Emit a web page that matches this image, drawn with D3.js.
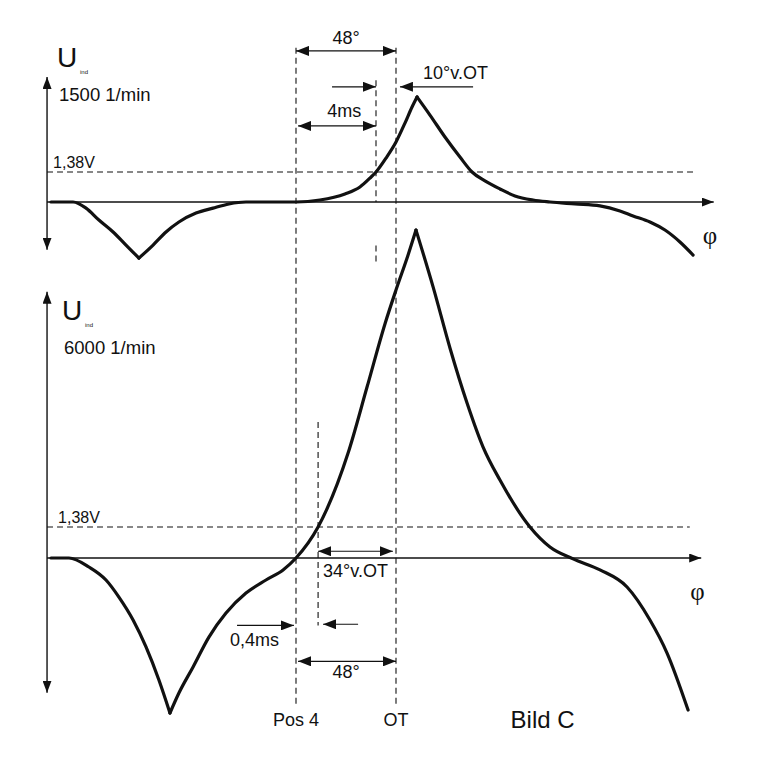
<!DOCTYPE html>
<html>
<head>
<meta charset="utf-8">
<script src="https://cdn.jsdelivr.net/npm/d3@7"></script>
<style>
  body { margin: 0; background: #fff; }
  text { font-family: "Liberation Sans", Arial, sans-serif; fill: #111; }
  .phi { font-family: "Liberation Serif", "Times New Roman", serif; }
</style>
</head>
<body>
<svg id="canvas" width="762" height="780"></svg>
<script>
// crank angle phi in degrees relative to OT (negative = before OT), U in volts

// upper trace, 1500 1/min
let topPhi = [-165.6, -155.0, -148.8, -142.6, -135.8, -129.6, -123.4, -116.6, -110.4, -104.2,
  -96.0, -87.8, -80.2, -72.0, -48, -36.5, -24.5, -17.3, -12.5, -9.6, -4.8, 0, 4.3, 7.7, 10.1,
  16.3, 23.5, 30.7, 36.5, 42.7, 49.9, 57.1, 65.8, 73.9, 85.9, 97.9, 107.5, 113.8, 121.9,
  129.1, 136.3, 142.6]
let topU = [0, 0, -0.28, -0.83, -1.38, -1.98, -2.58, -1.98, -1.38, -0.92,
  -0.51, -0.28, -0.09, 0, 0, 0.09, 0.37, 0.69, 1.10, 1.38, 2.02, 2.76, 3.63, 4.37, 4.83,
  4.00, 2.99, 2.07, 1.38, 0.97, 0.60, 0.28, 0.09, 0, -0.09, -0.18, -0.41, -0.64, -0.92,
  -1.29, -1.84, -2.44]

// lower trace, 6000 1/min
let botPhi = [-165.6, -157.0, -147.4, -139.2, -133.0, -126.2, -120.0, -113.8, -108.5, -104.2,
  -97.4, -89.8, -81.6, -72.0, -62.4, -54.2, -48, -37.4, -23.0, -13.9, -5.3, 0, 5.8, 9.6,
  17.8, 25.9, 34.1, 41.8, 49.9, 64.3, 73.9, 85.0, 97.9, 110.9, 121.9, 130.1, 140.2]
let botU = [0, 0, -0.40, -0.98, -1.74, -2.76, -3.96, -5.43, -6.90, -6.01,
  -4.85, -3.52, -2.45, -1.56, -0.98, -0.53, 0, 1.38, 4.67, 7.61, 10.42, 11.93, 13.49, 14.60,
  12.07, 9.35, 6.90, 4.94, 3.47, 1.38, 0.49, -0.04, -0.53, -1.29, -2.76, -4.23, -6.77]

let threshold = 1.38
let thresholdLabel = '1,38V'
let speedLabels = ['1500 1/min', '6000 1/min']
let markerPhi = [-48, 0]            // Pos 4, OT
let markerLabels = ['Pos 4', 'OT']
let ignPhi = [-9.6, -37.4]          // ignition points
let spanLabels = ['48°', '4ms', '10°v.OT', '34°v.OT', '0,4ms', '48°']
let title = 'Bild C'

let canvas = d3.select('#canvas')

let x = d3.scaleLinear().domain([-48, 0]).range([296, 396])
let yTop = d3.scaleLinear().domain([0, threshold]).range([202, 172])
let yBot = d3.scaleLinear().domain([0, threshold]).range([558, 527])

// arrow heads
let defs = canvas.append('defs')
defs.append('marker')
  .attr('id', 'head')
  .attr('viewBox', '0 0 13 10')
  .attr('refX', 13).attr('refY', 5)
  .attr('markerWidth', 13).attr('markerHeight', 10)
  .attr('markerUnits', 'userSpaceOnUse')
  .attr('orient', 'auto-start-reverse')
  .append('path').attr('d', 'M0,0L13,5L0,10Z').attr('fill', '#111')
defs.append('marker')
  .attr('id', 'axhead')
  .attr('viewBox', '0 0 12 9')
  .attr('refX', 12).attr('refY', 4.5)
  .attr('markerWidth', 12).attr('markerHeight', 9)
  .attr('markerUnits', 'userSpaceOnUse')
  .attr('orient', 'auto-start-reverse')
  .append('path').attr('d', 'M0,0L12,4.5L0,9Z').attr('fill', '#111')

let line = (x1, y1, x2, y2) => canvas.append('line')
  .attr('x1', x1).attr('y1', y1).attr('x2', x2).attr('y2', y2)
  .attr('stroke', '#111')

let dashed = (x1, y1, x2, y2) => line(x1, y1, x2, y2)
  .attr('stroke-width', 1.1)
  .attr('stroke-dasharray', '6,4')

let arrow = (x1, x2, yy, both) => {
  let l = line(x1, yy, x2, yy).attr('stroke-width', 1.2).attr('marker-end', 'url(#head)')
  if (both) l.attr('marker-start', 'url(#head)')
  return l
}

let label = (txt, xx, yy, size, anchor) => canvas.append('text')
  .attr('x', xx).attr('y', yy)
  .attr('font-size', size)
  .attr('text-anchor', anchor || 'start')
  .text(txt)

// draws one trace split at its cusps so the peaks stay sharp
let drawTrace = (phi, u, y) => {
  let pts = phi.map((p, i) => [p, u[i]])
  let iMin = d3.minIndex(u)
  let iMax = d3.maxIndex(u)
  let cuts = [0, Math.min(iMin, iMax), Math.max(iMin, iMax), pts.length - 1]
  let gen = d3.line()
    .x(d => x(d[0]))
    .y(d => y(d[1]))
    .curve(d3.curveMonotoneX)
  for (let k = 0; k < 3; k++) {
    canvas.append('path')
      .attr('d', gen(pts.slice(cuts[k], cuts[k + 1] + 1)))
      .attr('fill', 'none')
      .attr('stroke', '#111')
      .attr('stroke-width', 3.2)
      .attr('stroke-linecap', 'round')
      .attr('stroke-linejoin', 'miter')
  }
}

let drawPanel = (y, cfg) => {
  // y axis, arrows both ways
  line(x(cfg.phiStart), y(cfg.uTop), x(cfg.phiStart), y(cfg.uBottom))
    .attr('stroke-width', 1.4)
    .attr('marker-start', 'url(#axhead)')
    .attr('marker-end', 'url(#axhead)')
  // phi axis
  line(x(cfg.phiStart), y(0), x(cfg.phiEnd), y(0))
    .attr('stroke-width', 1.3)
    .attr('marker-end', 'url(#axhead)')
  // threshold
  dashed(x(cfg.phiStart), y(threshold), x(cfg.phiDash), y(threshold))

  let ax = x(cfg.phiStart)
  label('U', ax + cfg.dx + 10, cfg.uY, 28)
  label('ind', ax + cfg.dx + 33, cfg.uY + 7, 6)
  label(cfg.speed, ax + cfg.dx + 12, cfg.uY + 34, 18.5)
  label(thresholdLabel, ax + cfg.dx + 6, y(threshold) - 4, 16)
  label('φ', x(cfg.phiEnd) - 11, y(0) + 42, 25).attr('class', 'phi')
}

drawPanel(yTop, { phiStart: -167.5, phiEnd: 152.5, phiDash: 144, uTop: 5.75, uBottom: -2.2,
  speed: speedLabels[0], uY: 67, dx: 0 })
drawPanel(yBot, { phiStart: -167.5, phiEnd: 146.5, phiDash: 141, uTop: 11.85, uBottom: -6.0,
  speed: speedLabels[1], uY: 320, dx: 5 })

// Pos 4 / OT lines through both panels
markerPhi.forEach((p, i) => {
  dashed(x(p), yTop(7.1), x(p), yBot(-6.6))
  label(markerLabels[i], x(p), yBot(-7.5), 18, 'middle')
})

// ignition lines
dashed(x(ignPhi[0]), yTop(5.6), x(ignPhi[0]), yTop(0))
dashed(x(ignPhi[0]), yTop(-2.0), x(ignPhi[0]), yTop(-2.75))
dashed(x(ignPhi[1]), yBot(6.05), x(ignPhi[1]), yBot(-3.0))

drawTrace(topPhi, topU, yTop)
drawTrace(botPhi, botU, yBot)

// upper annotations
arrow(x(markerPhi[0]), x(markerPhi[1]), yTop(6.95), true)
label(spanLabels[0], x(-24), yTop(7.25), 18, 'middle')
arrow(x(-30.7), x(ignPhi[0]), yTop(5.3))
arrow(x(37), x(1.9), yTop(5.3))
label(spanLabels[2], x(13), yTop(5.65), 18)
arrow(x(-47), x(ignPhi[0]), yTop(3.5), true)
label(spanLabels[1], x(-33), yTop(3.9), 18)

// lower annotations
arrow(x(ignPhi[1]), x(-1.5), yBot(0.3), true)
label(spanLabels[3], x(-35), yBot(-0.85), 18)
arrow(x(-76.3), x(-49), yBot(-3.0))
label(spanLabels[4], x(-79.7), yBot(-3.9), 18)
arrow(x(-18.2), x(-35), yBot(-2.95))
arrow(x(-47), x(0), yBot(-4.6), true)
label(spanLabels[5], x(-24), yBot(-5.35), 18, 'middle')

label(title, x(55), yBot(-7.55), 24)
</script>
</body>
</html>
